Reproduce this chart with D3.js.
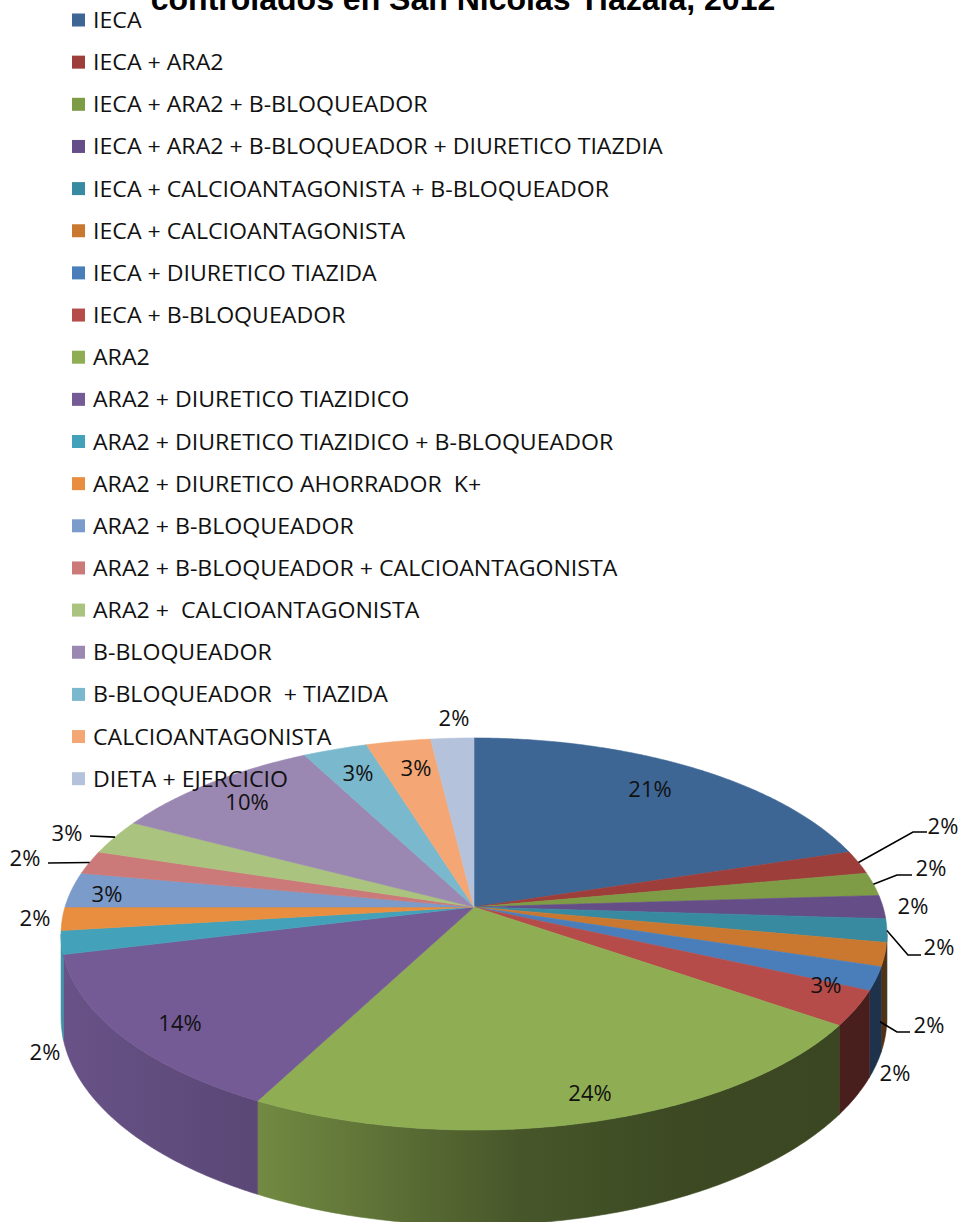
<!DOCTYPE html>
<html>
<head>
<meta charset="utf-8">
<script src="https://cdn.jsdelivr.net/npm/d3@7"></script>
<style>
  html, body { margin: 0; padding: 0; background: #fff; }
  svg { display: block; }
</style>
</head>
<body>
<svg id="chart" width="962" height="1222"></svg>
<script>
// Treatment groups, in legend order
const categories = [
  "IECA",
  "IECA + ARA2",
  "IECA + ARA2 + B-BLOQUEADOR",
  "IECA + ARA2 + B-BLOQUEADOR + DIURETICO TIAZDIA",
  "IECA + CALCIOANTAGONISTA + B-BLOQUEADOR",
  "IECA + CALCIOANTAGONISTA",
  "IECA + DIURETICO TIAZIDA",
  "IECA + B-BLOQUEADOR",
  "ARA2",
  "ARA2 + DIURETICO TIAZIDICO",
  "ARA2 + DIURETICO TIAZIDICO + B-BLOQUEADOR",
  "ARA2 + DIURETICO AHORRADOR  K+",
  "ARA2 + B-BLOQUEADOR",
  "ARA2 + B-BLOQUEADOR + CALCIOANTAGONISTA",
  "ARA2 +  CALCIOANTAGONISTA",
  "B-BLOQUEADOR",
  "B-BLOQUEADOR  + TIAZIDA",
  "CALCIOANTAGONISTA",
  "DIETA + EJERCICIO"
];

// Share of patients per group (%)
const values = [21, 2, 2, 2, 2, 2, 2, 3, 24, 14, 2, 2, 3, 2, 3, 10, 3, 3, 2];

const titleText = "controlados en San Nicolás Tlazala, 2012";

// Slice colours
const colors = [
  "#3d6695", "#9d3e3b", "#7e9b46", "#654e87", "#378a9f", "#ca782f",
  "#4a7ebb", "#b54c49", "#8fae53", "#745b96", "#43a2ba", "#e98e3f",
  "#7b9bcb", "#cb7a79", "#aac47f", "#9a87b2", "#7ab8cd", "#f4a775",
  "#b5c2dc"
];

// Data-label placement (label centre) and optional leader-line elbows
const labelLayout = [
  { x: 650, y: 789 },
  { x: 943, y: 826, elbow: [[913, 832], [927, 832]] },
  { x: 931, y: 868, elbow: [[897, 875], [912, 875]] },
  { x: 913, y: 906 },
  { x: 939, y: 947, elbow: [[908, 955], [921, 955]] },
  { x: 895, y: 1073 },
  { x: 929, y: 1025, elbow: [[897, 1032], [910, 1032]], onSide: true },
  { x: 826, y: 985 },
  { x: 590, y: 1093 },
  { x: 180, y: 1023 },
  { x: 45, y: 1052 },
  { x: 35, y: 918 },
  { x: 107, y: 894 },
  { x: 25, y: 858, elbow: [[48, 863]] },
  { x: 67, y: 833, elbow: [[90, 836]] },
  { x: 247, y: 802 },
  { x: 358, y: 773 },
  { x: 416, y: 768 },
  { x: 454, y: 718 }
];

const svg = d3.select("#chart");
const defs = svg.append("defs");

// Perspective projection of a tilted disc
const cx = 474, cy = 907;
const A = 409, B = 192.3, k = 0.1377, depth = 82;
function proj(r, t) {
  const u = r * Math.sin(t), v = r * Math.cos(t), w = 1 + k * v;
  return [cx + A * u / w, cy - B * v / w];
}
function projBottom(t) {
  const v = Math.cos(t), w = 1 + k * v;
  const p = proj(1, t);
  return [p[0], p[1] + depth / w];
}
function sideDepth(t) { return depth / (1 + k * Math.cos(t)); }

const pie = d3.pie().sort(null).value(d => d).startAngle(0).endAngle(2 * Math.PI);
const arcs = pie(values);

const line = d3.line();
const step = Math.PI / 360;
function samples(a0, a1) {
  const n = Math.max(2, Math.ceil((a1 - a0) / step));
  return d3.range(n + 1).map(i => a0 + (a1 - a0) * i / n);
}

// Visible part of the rim: where the outline reaches its horizontal extremes
const tRight = Math.acos(-k), tLeft = 2 * Math.PI - Math.acos(-k);
const xMin = proj(1, tLeft)[0], xMax = proj(1, tRight)[0];

function shade(c, f) {
  const r = d3.rgb(c);
  return d3.rgb(r.r * f, r.g * f, r.b * f).formatHex();
}
const sideStops = [[0, 0.9], [0.25, 0.78], [0.55, 0.5], [0.75, 0.42], [1, 0.4]];

const gSide = svg.append("g");
const gTop = svg.append("g");

arcs.forEach((a, i) => {
  const s0 = Math.max(a.startAngle, tRight), s1 = Math.min(a.endAngle, tLeft);
  if (s1 > s0) {
    const grad = defs.append("linearGradient")
      .attr("id", "side" + i)
      .attr("gradientUnits", "userSpaceOnUse")
      .attr("x1", xMin).attr("x2", xMax).attr("y1", 0).attr("y2", 0);
    sideStops.forEach(s => grad.append("stop")
      .attr("offset", s[0]).attr("stop-color", shade(colors[i], s[1])));
    const ts = samples(s0, s1);
    const pts = ts.map(t => proj(1, t)).concat(ts.slice().reverse().map(projBottom));
    gSide.append("path")
      .attr("d", line(pts) + "Z")
      .attr("fill", "url(#side" + i + ")")
      .attr("stroke", "url(#side" + i + ")")
      .attr("stroke-width", 0.6);
  }
});

arcs.forEach((a, i) => {
  const pts = [[cx, cy]].concat(samples(a.startAngle, a.endAngle).map(t => proj(1, t)));
  gTop.append("path")
    .attr("d", line(pts) + "Z")
    .attr("fill", colors[i])
    .attr("stroke", colors[i])
    .attr("stroke-width", 0.6)
    .attr("stroke-linejoin", "round");
});

// Data labels and leader lines
const fontLabel = "'Open Sans', 'DejaVu Sans', sans-serif";
const gLab = svg.append("g");
arcs.forEach((a, i) => {
  const L = labelLayout[i];
  if (L.elbow) {
    const mid = (a.startAngle + a.endAngle) / 2;
    let start = proj(1, mid);
    if (L.onSide) start = [start[0] + 4, start[1] + sideDepth(mid) / 2];
    gLab.append("path")
      .attr("d", line([start].concat(L.elbow)))
      .attr("fill", "none")
      .attr("stroke", "#000")
      .attr("stroke-width", 1.6);
  }
  gLab.append("text")
    .attr("x", L.x).attr("y", L.y)
    .attr("dy", "0.35em")
    .attr("text-anchor", "middle")
    .attr("font-family", fontLabel)
    .attr("font-size", 22)
    .attr("fill", "#111")
    .text(values[i] + "%");
});

// Legend
const gLeg = svg.append("g");
const rowY = i => 20 + i * 42.15;
gLeg.selectAll("rect").data(categories).join("rect")
  .attr("x", 72).attr("y", (d, i) => rowY(i) - 6.5)
  .attr("width", 13).attr("height", 13)
  .attr("fill", (d, i) => colors[i]);
const legText = gLeg.selectAll("text").data(categories).join("text")
  .attr("font-family", fontLabel)
  .attr("font-size", 22)
  .attr("fill", "#111")
  .attr("xml:space", "preserve")
  .style("white-space", "pre")
  .text(d => d);
const longest = legText.nodes()[3].getComputedTextLength();
const sx = 570 / longest;
legText.attr("transform", (d, i) => `translate(93,${rowY(i) + 8}) scale(${sx},1)`);

// Title (upper lines fall outside the frame)
const title = svg.append("text")
  .attr("x", 463).attr("y", 10)
  .attr("text-anchor", "middle")
  .attr("font-family", "'Liberation Sans', Arial, sans-serif")
  .attr("font-weight", "bold")
  .attr("font-size", 30)
  .attr("fill", "#000")
  .text(titleText);
const tw = title.node().getComputedTextLength();
title.attr("font-size", 30 * 625 / tw);
</script>
</body>
</html>
